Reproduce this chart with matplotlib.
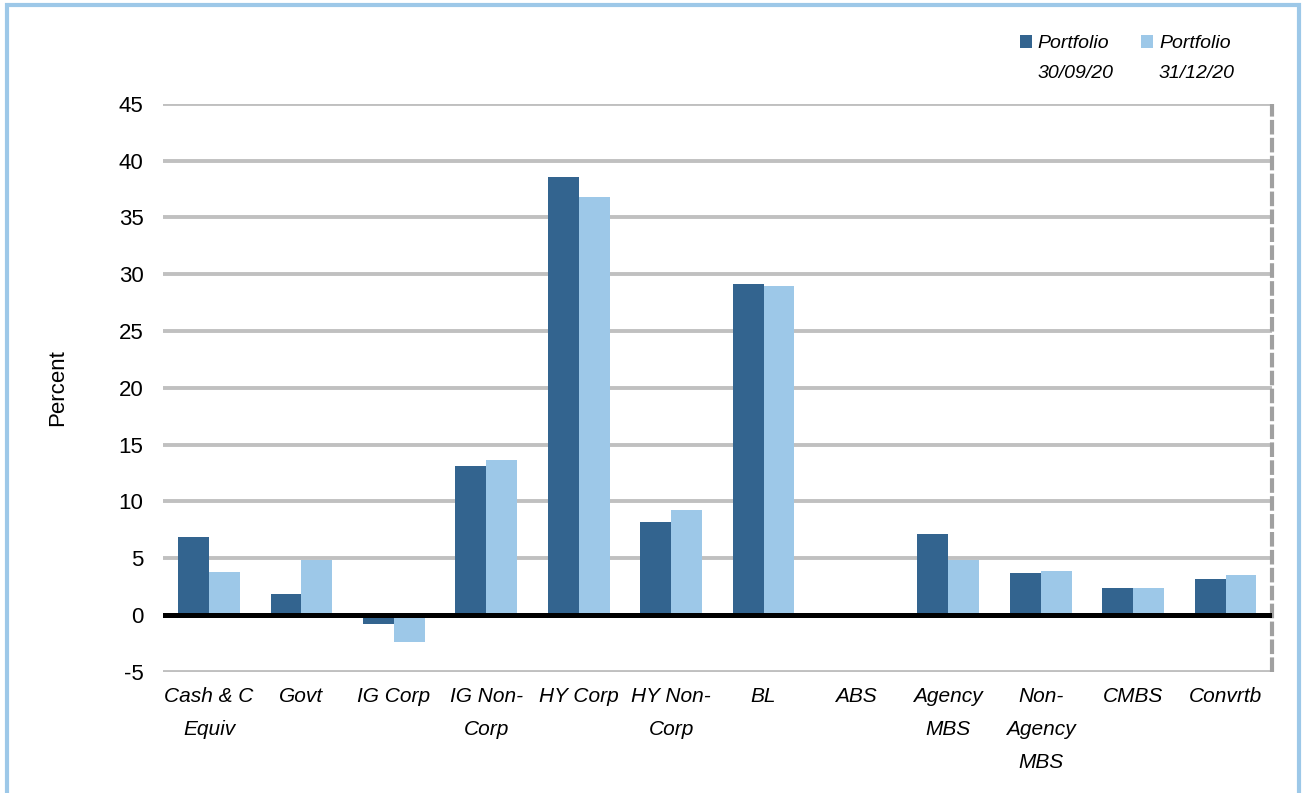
"""Portfolio sector allocation: 30/09/20 vs 31/12/20 (grouped bars)."""
import matplotlib
matplotlib.use("Agg")
import matplotlib.pyplot as plt
import numpy as np
from matplotlib import font_manager
from matplotlib.patches import Rectangle

categories = ["Cash & C\nEquiv", "Govt", "IG Corp", "IG Non-\nCorp", "HY Corp",
              "HY Non-\nCorp", "BL", "ABS", "Agency\nMBS", "Non-\nAgency\nMBS",
              "CMBS", "Convrtb"]
portfolio_sep = [6.9, 1.8, -0.8, 13.1, 38.6, 8.2, 29.1, 0.0, 7.1, 3.7, 2.4, 3.2]
portfolio_dec = [3.8, 4.8, -2.4, 13.6, 36.8, 9.2, 29.0, 0.0, 4.8, 3.9, 2.4, 3.5]
series_labels = ["Portfolio\n30/09/20", "Portfolio\n31/12/20"]
y_ticks = [-5, 0, 5, 10, 15, 20, 25, 30, 35, 40, 45]

DARK = "#33648f"
LIGHT = "#9dc8e8"
GRID = "#c0c0c0"

# pick a narrow face for the italic labels if one is around
installed = {f.name for f in font_manager.fontManager.ttflist}
label_family = "Liberation Sans Narrow" if "Liberation Sans Narrow" in installed else "Liberation Sans"

fig = plt.figure(figsize=(13.03, 7.93), dpi=100)
ax = fig.add_axes([0.125, 0.153, 0.851, 0.716])

x = np.arange(len(categories))
w = 0.335
ax.bar(x - w / 2, portfolio_sep, w, color=DARK, zorder=3)
ax.bar(x + w / 2, portfolio_dec, w, color=LIGHT, zorder=3)

ax.set_xlim(-0.5, len(categories) - 0.5)
ax.set_ylim(-5, 45)
ax.set_yticks(y_ticks)
ax.set_yticklabels([str(v) for v in y_ticks], fontsize=16, family="Liberation Sans")
ax.set_xticks(x)
ax.set_xticklabels(categories, fontsize=15, family=label_family, style="italic",
                   linespacing=1.95, va="top")
ax.tick_params(axis="both", length=0)
ax.tick_params(axis="y", pad=14)
ax.tick_params(axis="x", pad=11)

for v in y_ticks:
    if v == 0:
        continue
    ax.axhline(v, color=GRID, lw=2.8, zorder=1)
ax.axhline(0, color="black", lw=3.6, zorder=4)

for side in ["top", "left", "bottom", "right"]:
    ax.spines[side].set_visible(False)
ax.axvline(len(categories) - 0.5, color="#a0a0a0", lw=3, ls=(0, (3.5, 0.8)), zorder=2,
           clip_on=False)

ax.set_ylabel("Percent", fontsize=16, family="Liberation Sans", labelpad=36)

# legend drawn by hand: square level with the first text line
for (sx, colour), label in zip([(0.7825, DARK), (0.8755, LIGHT)], series_labels):
    fig.patches.append(Rectangle((sx, 0.939), 0.0095, 0.0165, transform=fig.transFigure,
                                 facecolor=colour, edgecolor="none"))
    fig.text(sx + 0.014, 0.956, label, ha="left", va="top", fontsize=14,
             family=label_family, style="italic", linespacing=2.0)

# light blue frame round the panel
fig.patches.append(Rectangle((0.005, -0.01), 0.992, 1.004, transform=fig.transFigure,
                             fill=False, edgecolor="#9dc8e8", lw=3))

fig.savefig("out.png", dpi=100)
